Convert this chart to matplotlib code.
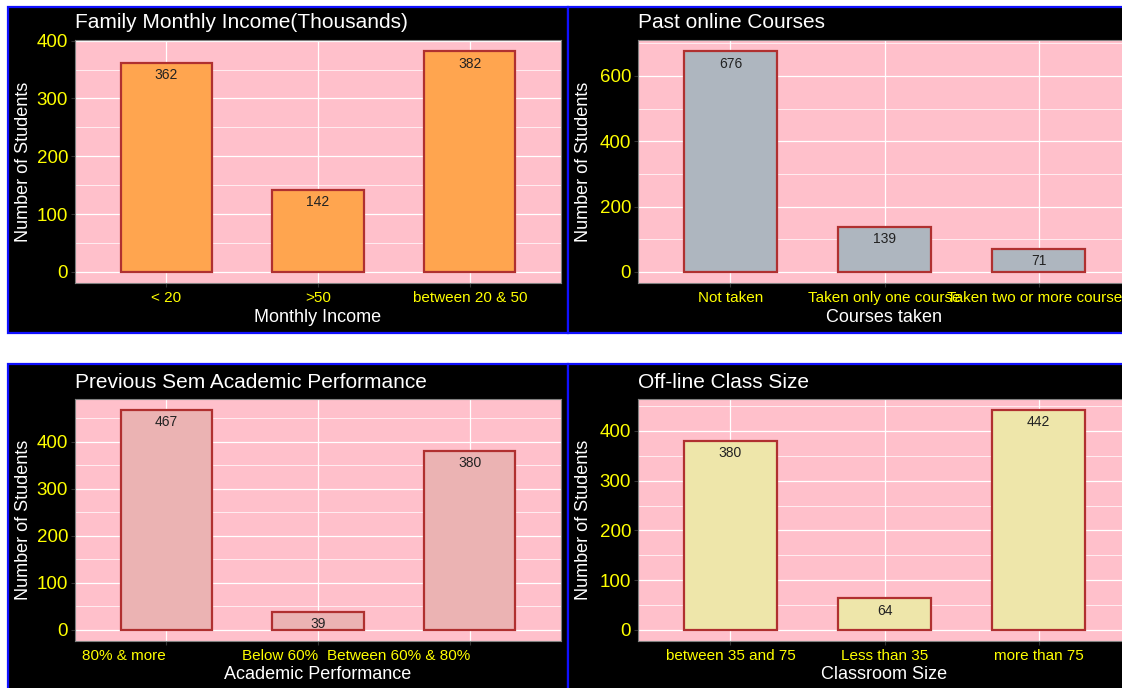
import matplotlib
matplotlib.use("Agg")
import matplotlib.pyplot as plt
from matplotlib.patches import Rectangle
import numpy as np

plt.rcParams['font.family'] = ['Liberation Sans', 'DejaVu Sans']

# survey counts per category
income_cats = ["< 20", ">50", "between 20 & 50"]
income_counts = [362, 142, 382]

course_cats = ["Not taken", "Taken only one course", "Taken two or more courses"]
course_counts = [676, 139, 71]

perf_cats = ["80% & more", "Below 60%", "Between 60% & 80%"]
perf_counts = [467, 39, 380]

size_cats = ["between 35 and 75", "Less than 35", "more than 75"]
size_counts = [380, 64, 442]

W, H = 1122, 688
fig = plt.figure(figsize=(W / 100, H / 100), dpi=100, facecolor="white")

# background layer in pixel coordinates for the black panels and blue frames
bg = fig.add_axes([0, 0, 1, 1], zorder=0)
bg.set_xlim(0, W)
bg.set_ylim(H, 0)
bg.axis("off")
for (x0, y0, x1, y1) in [(8, 7, 568, 333), (568, 7, 1130, 333),
                         (8, 364, 568, 700), (568, 364, 1130, 700)]:
    bg.add_patch(Rectangle((x0, y0), x1 - x0, y1 - y0, facecolor="black",
                           edgecolor="#1010ff", linewidth=1.6))


def box(x0, y0, x1, y1):
    return [x0 / W, 1 - y1 / H, (x1 - x0) / W, (y1 - y0) / H]


def panel(pos, cats, counts, fill, title, xlabel, major, minor,
          tick_ha="center", ylab_x=-0.105):
    ax = fig.add_axes(box(*pos), zorder=1)
    ax.set_facecolor("pink")
    x = np.arange(len(cats))
    top = max(counts)
    ax.set_xlim(-0.6, len(cats) - 0.4)
    ax.set_ylim(-0.05 * top, 1.05 * top)

    ax.set_yticks(major)
    ax.set_yticks(minor, minor=True)
    ax.set_xticks(x)
    ax.set_xticklabels(cats, ha=tick_ha)
    ax.grid(True, which="major", color="white", linewidth=0.9)
    ax.grid(True, which="minor", axis="y", color="white", linewidth=0.5)
    ax.set_axisbelow(True)

    ax.tick_params(axis="y", which="major", colors="#333333", labelcolor="yellow",
                   labelsize=13.5, length=3, width=0.8, pad=2)
    ax.tick_params(axis="x", which="major", colors="#333333", labelcolor="yellow",
                   labelsize=11, length=3, width=0.8, pad=3)
    ax.tick_params(which="minor", length=0)
    for s in ax.spines.values():
        s.set_color("#7f7f7f")
        s.set_linewidth(0.8)

    bars = ax.bar(x, counts, width=0.6, color=fill, edgecolor="#b03030",
                  linewidth=1.6, zorder=3)
    for b, v in zip(bars, counts):
        ax.annotate(str(v), (b.get_x() + b.get_width() / 2, v),
                    xytext=(0, -9), textcoords="offset points",
                    ha="center", va="center", fontsize=10, color="#222222",
                    zorder=4)

    ax.text(0, 1.07, title, transform=ax.transAxes, color="white",
            fontsize=15, ha="left", va="center")
    ax.text(0.5, -0.14, xlabel, transform=ax.transAxes, color="white",
            fontsize=13, ha="center", va="center")
    ax.text(ylab_x, 0.5, "Number of Students", transform=ax.transAxes,
            color="white", fontsize=13, rotation=90, ha="center", va="center")
    return ax


panel((75, 40, 561, 283), income_cats, income_counts, "#ffa54f",
      "Family Monthly Income(Thousands)", "Monthly Income",
      [0, 100, 200, 300, 400], [50, 150, 250, 350])
panel((638, 40, 1131, 283), course_cats, course_counts, "#aeb6bf",
      "Past online Courses", "Courses taken",
      [0, 200, 400, 600], [100, 300, 500, 700], ylab_x=-0.11)
panel((75, 399, 561, 641), perf_cats, perf_counts, "#ebb3b3",
      "Previous Sem Academic Performance", "Academic Performance",
      [0, 100, 200, 300, 400], [50, 150, 250, 350, 450], tick_ha="right")
panel((638, 399, 1131, 641), size_cats, size_counts, "#eee6aa",
      "Off-line Class Size", "Classroom Size",
      [0, 100, 200, 300, 400], [50, 150, 250, 350, 450], ylab_x=-0.11)

fig.savefig("out.png", dpi=100, facecolor="white")
